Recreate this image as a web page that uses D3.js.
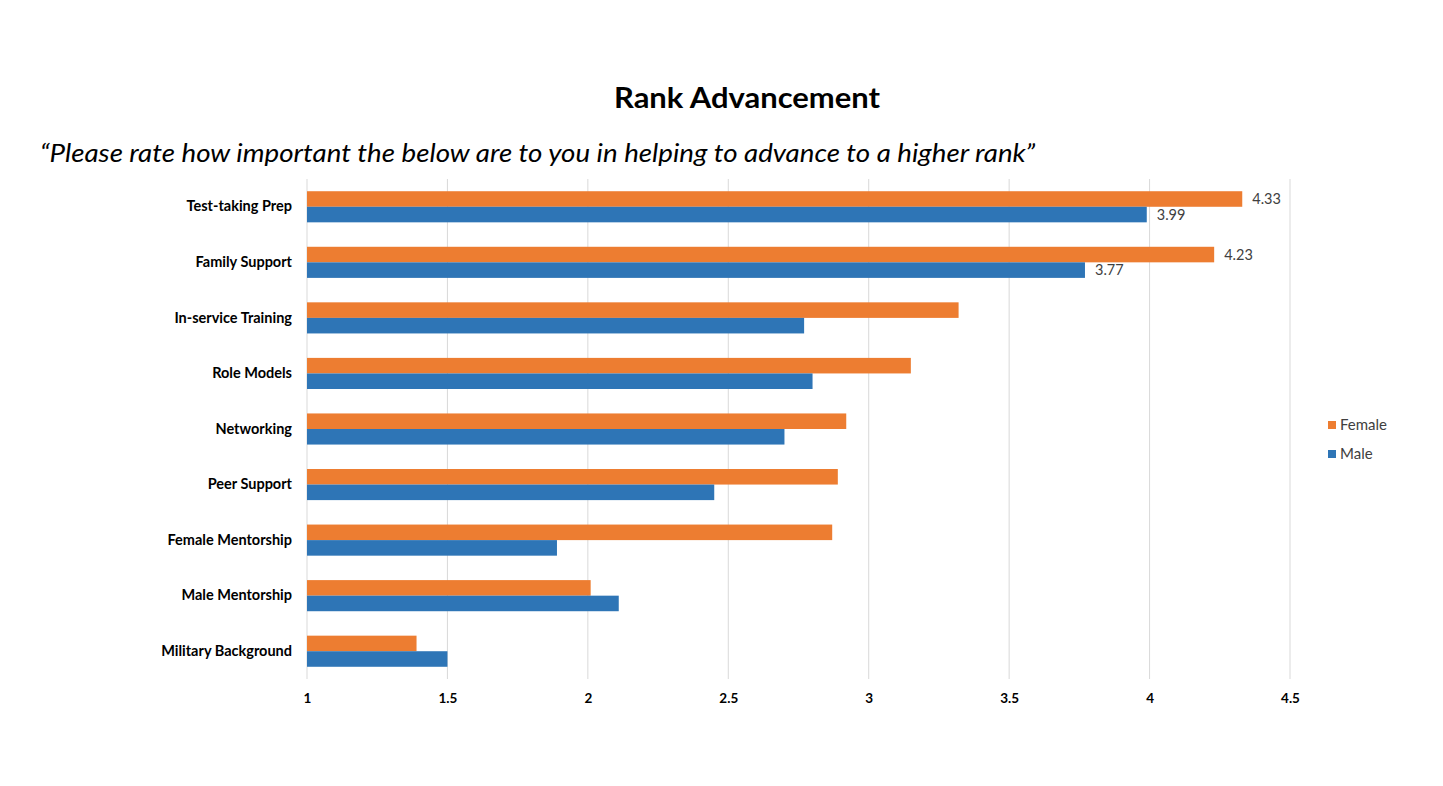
<!DOCTYPE html>
<html><head><meta charset="utf-8">
<script src="https://cdn.jsdelivr.net/npm/d3@7"></script>
<style>body{margin:0;background:#fff}svg{display:block}text{font-family:Lato,"Open Sans",sans-serif}</style>
</head><body><svg id="c" width="1443" height="786"></svg>
<script>
const categories = ["Test-taking Prep","Family Support","In-service Training","Role Models","Networking","Peer Support","Female Mentorship","Male Mentorship","Military Background"];
const female = [4.33,4.23,3.32,3.15,2.92,2.89,2.87,2.01,1.39];
const male = [3.99,3.77,2.77,2.80,2.70,2.45,1.89,2.11,1.50];
const labelled = [0,1];
const ticks = [1,1.5,2,2.5,3,3.5,4,4.5];
const seriesNames = ["Female","Male"];
const colors = {Female:"#ED7D31", Male:"#2E75B6"};

const svg = d3.select("#c");
const x = d3.scaleLinear().domain([1,4.5]).range([307,1290]);
const y = d3.scaleBand().domain(categories).range([179,679]).paddingInner(0.44).paddingOuter(0.22);
const sub = d3.scaleBand().domain(seriesNames).range([0,y.bandwidth()]);

svg.append("text").attr("x",747).attr("y",108).attr("text-anchor","middle")
  .attr("font-size",29).attr("font-weight","bold").attr("fill","#000")
  .attr("textLength",266).attr("lengthAdjust","spacingAndGlyphs").text("Rank Advancement");
svg.append("text").attr("x",40).attr("y",162)
  .attr("font-size",25).attr("font-style","italic").attr("fill","#000")
  .attr("textLength",995).attr("lengthAdjust","spacingAndGlyphs")
  .text("\u201CPlease rate how important the below are to you in helping to advance to a higher rank\u201D");

// gridlines
svg.append("g").selectAll("line").data(ticks).join("line")
  .attr("x1",d=>x(d)).attr("x2",d=>x(d)).attr("y1",179).attr("y2",679)
  .attr("stroke","#D9D9D9").attr("stroke-width",1);

// x axis labels
const xa = svg.append("g").attr("transform","translate(0,679)")
  .call(d3.axisBottom(x).tickValues(ticks).tickSize(0).tickPadding(14).tickFormat(d3.format("")));
xa.select(".domain").remove();
xa.selectAll("text").attr("font-size",13.5).attr("font-weight","bold").attr("fill","#000")
  .style("font-family","Lato,sans-serif");

// y axis labels
const ya = svg.append("g").attr("transform","translate(292,0)")
  .call(d3.axisLeft(y).tickSize(0).tickPadding(0));
ya.select(".domain").remove();
ya.selectAll("text").attr("font-size",14.5).attr("font-weight","bold").attr("fill","#000")
  .style("font-family","Lato,sans-serif");

const data = categories.map((c,i)=>({c,i,Female:female[i],Male:male[i]}));
const g = svg.append("g");
seriesNames.forEach(s=>{
  g.selectAll("rect."+s).data(data).join("rect").attr("class",s)
    .attr("x",x(1)).attr("y",d=>y(d.c)+sub(s)).attr("height",sub.bandwidth())
    .attr("width",d=>x(d[s])-x(1)).attr("fill",colors[s]);
  g.selectAll("text."+s).data(data.filter(d=>labelled.includes(d.i))).join("text").attr("class",s)
    .attr("x",d=>x(d[s])+10).attr("y",d=>y(d.c)+sub(s)+sub.bandwidth()/2).attr("dy","0.35em")
    .attr("font-size",14.5).attr("fill","#404040").text(d=>d3.format(".2f")(d[s]));
});

// legend
const lg = svg.append("g").attr("transform","translate(1328,0)");
seriesNames.forEach((s,i)=>{
  const yy = 425 + i*29;
  lg.append("rect").attr("x",0).attr("y",yy-4).attr("width",8).attr("height",8).attr("fill",colors[s]);
  lg.append("text").attr("x",12).attr("y",yy).attr("dy","0.35em").attr("font-size",15).attr("fill","#404040").text(s);
});
</script></body></html>
